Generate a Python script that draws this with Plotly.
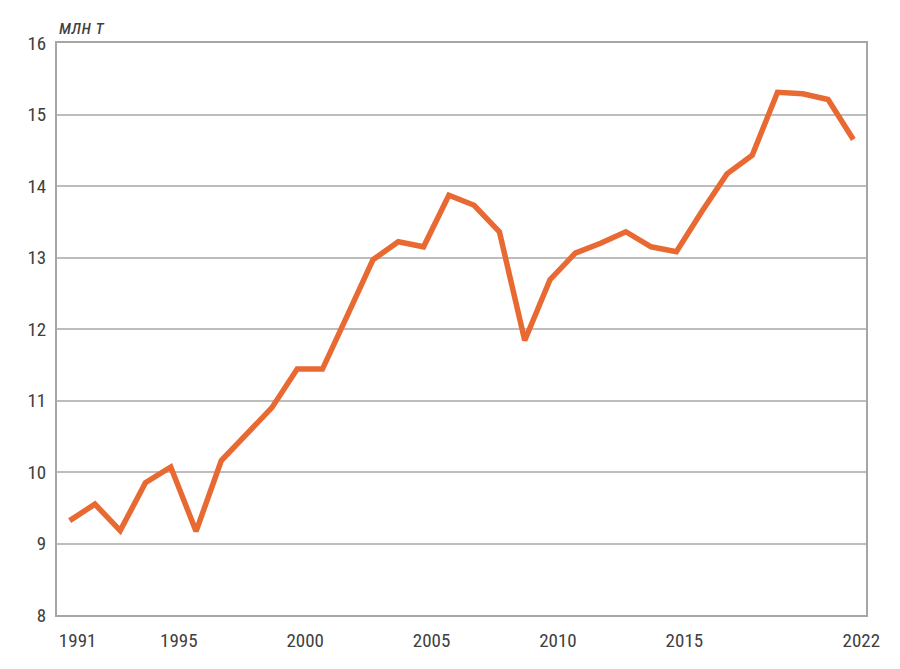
import plotly.graph_objects as go

years = list(range(1991, 2023))
values = [9.32, 9.55, 9.18, 9.85, 10.07, 9.17, 10.16, 10.52, 10.90, 11.44,
          11.44, 12.20, 12.97, 13.22, 13.15, 13.87, 13.73, 13.36, 11.84, 12.69,
          13.06, 13.20, 13.36, 13.15, 13.08, 13.64, 14.17, 14.43, 15.31, 15.29,
          15.21, 14.65]
x_ticks = [1991, 1995, 2000, 2005, 2010, 2015, 2022]
y_ticks = [8, 9, 10, 11, 12, 13, 14, 15, 16]
unit_label = "млн т"

FONT = "Liberation Sans Narrow, Roboto Condensed, Roboto, sans-serif"

fig = go.Figure()
fig.add_trace(go.Scatter(
    x=years, y=values, mode="lines",
    line=dict(color="#E86A32", width=5.5),
    hoverinfo="x+y",
))

fig.update_layout(
    width=892, height=661,
    margin=dict(l=49, r=34, t=35, b=54),
    paper_bgcolor="white", plot_bgcolor="white",
    showlegend=False,
    font=dict(family=FONT, size=19, color="#404040"),
    xaxis=dict(
        range=[1990.5, 2022.5],
        tickmode="array", tickvals=x_ticks,
        ticktext=[str(v) for v in x_ticks],
        showgrid=False, zeroline=False,
        showline=True, linecolor="#a6a6a6", linewidth=2, mirror=True,
        ticks="", ticklabelshift=8, ticklabelstandoff=7,
    ),
    yaxis=dict(
        range=[8, 16],
        tickmode="array", tickvals=y_ticks,
        showgrid=True, gridcolor="#bdbdbd", gridwidth=1.5,
        zeroline=False,
        showline=True, linecolor="#a6a6a6", linewidth=2, mirror=True,
        ticks="", ticklabelstandoff=5,
    ),
    annotations=[dict(
        text="<i>" + unit_label + "</i>", xref="paper", yref="paper",
        x=0, y=1, xanchor="left", yanchor="bottom", yshift=2,
        showarrow=False, font=dict(family=FONT, size=20, color="#404040"),
    )],
)

fig.write_html("out.html")
